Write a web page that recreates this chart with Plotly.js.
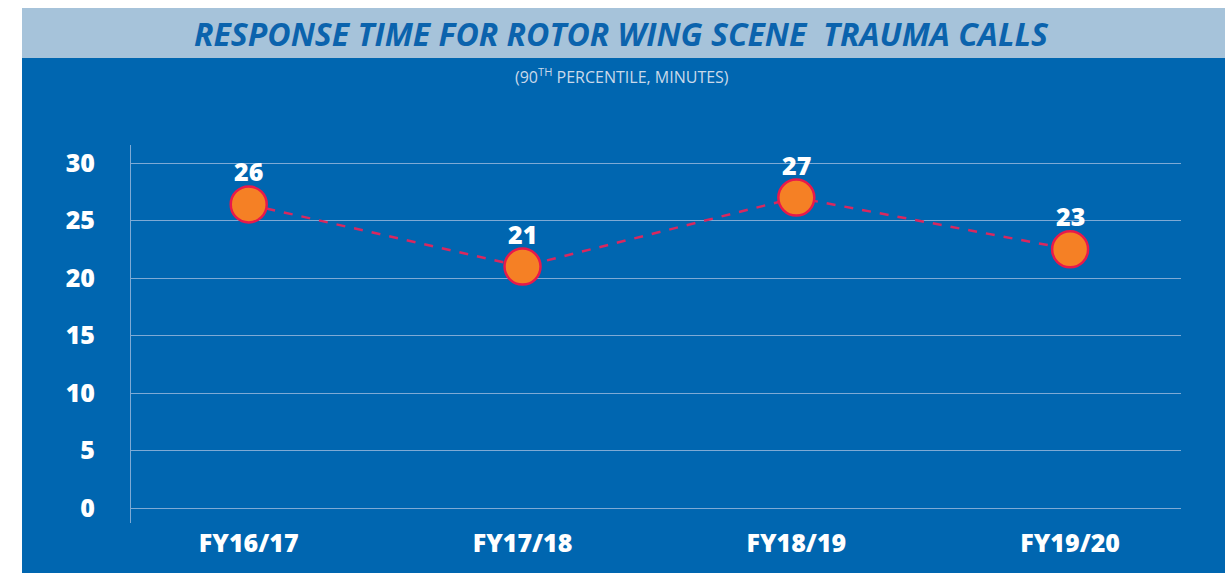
<!DOCTYPE html>
<html>
<head>
<meta charset="utf-8">
<script src="https://cdn.plot.ly/plotly-3.0.1.min.js"></script>
<style>html,body{margin:0;padding:0;background:#fff;}#chart{width:1225px;height:574px;}</style>
</head>
<body>
<div id="chart"></div>
<script>
const categories = ["FY16/17", "FY17/18", "FY18/19", "FY19/20"];
const values = [26.4, 21.0, 27.0, 22.5];
const valueLabels = ["26", "21", "27", "23"];
const yTicks = [0, 5, 10, 15, 20, 25, 30];
const titleText = "RESPONSE TIME FOR ROTOR WING SCENE  TRAUMA CALLS";
const subtitleText = "(90<sup>TH</sup> PERCENTILE, MINUTES)";

const trace = {
  x: categories,
  y: values,
  type: "scatter",
  mode: "lines+markers",
  line: {color: "#d9285f", width: 2.5, dash: "dash"},
  marker: {size: 36, color: "#f58025", line: {color: "#e8194b", width: 2.5}},
  cliponaxis: false,
  hoverinfo: "none"
};

const valueAnnotations = categories.map((c, i) => ({
  x: c, y: values[i], xref: "x", yref: "y",
  text: valueLabels[i], showarrow: false,
  xanchor: "center", yanchor: "middle", yshift: 33,
  font: {family: "Open Sans", size: 25, color: "#ffffff", weight: 800}
}));

const layout = {
  width: 1225,
  height: 574,
  margin: {l: 131, r: 44, t: 145, b: 51},
  paper_bgcolor: "#ffffff",
  plot_bgcolor: "rgba(0,0,0,0)",
  showlegend: false,
  xaxis: {
    type: "category",
    range: [-0.43, 3.405],
    showgrid: false,
    zeroline: false,
    showline: false,
    ticks: "",
    ticklabelstandoff: 3,
    tickfont: {family: "Open Sans", size: 25, color: "#ffffff", weight: 800}
  },
  yaxis: {
    range: [-1.3, 31.57],
    tickvals: yTicks,
    showgrid: true,
    gridcolor: "#7eaad5",
    gridwidth: 1,
    zeroline: false,
    showline: true,
    linecolor: "#7eaad5",
    linewidth: 1,
    ticks: "",
    ticklabelstandoff: 30,
    tickfont: {family: "Open Sans", size: 25, color: "#ffffff", weight: 800}
  },
  shapes: [
    {type: "rect", xref: "paper", yref: "paper", x0: -0.1038, x1: 1.05, y0: -0.1323, y1: 1.2302,
     fillcolor: "#0066b0", line: {width: 0}, layer: "below"},
    {type: "rect", xref: "paper", yref: "paper", x0: -0.1038, x1: 1.05, y0: 1.2302, y1: 1.3624,
     fillcolor: "#a6c3da", line: {width: 0}, layer: "below"}
  ],
  annotations: [
    {xref: "paper", yref: "paper", x: 0.467, y: 1.2937, xanchor: "center", yanchor: "middle",
     text: titleText, showarrow: false,
     font: {family: "Open Sans", size: 32, color: "#0b63ad", weight: 700, style: "italic"}},
    {xref: "paper", yref: "paper", x: 0.468, y: 1.1825, xanchor: "center", yanchor: "middle",
     text: subtitleText, showarrow: false,
     font: {family: "Open Sans", size: 16, color: "#c9d9ea"}}
  ].concat(valueAnnotations)
};

Plotly.newPlot("chart", [trace], layout, {displayModeBar: false, staticPlot: true});
</script>
</body>
</html>
